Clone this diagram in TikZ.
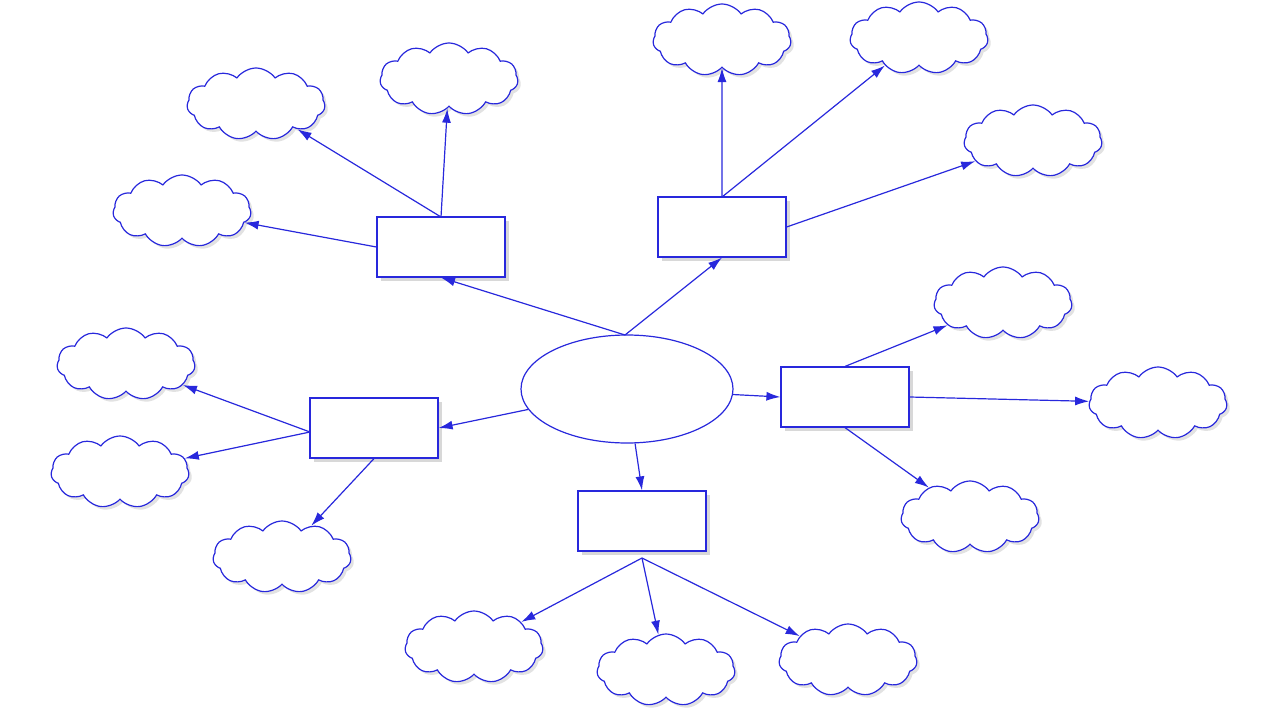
\documentclass[tikz,border=0pt]{standalone}
\usetikzlibrary{shapes.geometric,shapes.symbols,arrows.meta,shadows}
\definecolor{lb}{RGB}{40,40,220}
\begin{document}
\begin{tikzpicture}[x=1pt,y=-1pt,
  ln/.style={draw=lb,line width=1.2pt},
  box/.style={ln,fill=white,minimum width=128pt,minimum height=60pt,inner sep=0pt,
    drop shadow={shadow xshift=4pt,shadow yshift=-4pt,fill=gray!60}},
  cl/.style={ln,cloud,cloud puffs=11,cloud puff arc=110,aspect=2,fill=white,
    minimum width=138pt,minimum height=72pt,inner sep=0pt,
    drop shadow={shadow xshift=3pt,shadow yshift=-3pt,fill=gray!45}},
  ar/.style={ln,-{Latex[length=14pt,width=9pt]}}]
\useasboundingbox (0,0) rectangle (1280,720);
\node[ln,ellipse,fill=white,minimum width=212pt,minimum height=108pt] (e) at (627,389) {};
\node[box] (b1) at (441,247) {};
\node[box] (b2) at (722,227) {};
\node[box] (b3) at (845,397) {};
\node[box] (b4) at (374,428) {};
\node[box] (b5) at (642,521) {};
\node[cl] (c11) at (256,104) {};
\node[cl] (c12) at (449,79) {};
\node[cl] (c13) at (182,211) {};
\node[cl] (c21) at (722,40) {};
\node[cl] (c22) at (919,38) {};
\node[cl] (c23) at (1033,141) {};
\node[cl] (c31) at (1003,303) {};
\node[cl] (c32) at (1158,403) {};
\node[cl] (c33) at (970,517) {};
\node[cl] (c41) at (126,364) {};
\node[cl] (c42) at (120,472) {};
\node[cl] (c43) at (282,557) {};
\node[cl] (c51) at (474,647) {};
\node[cl] (c52) at (666,670) {};
\node[cl] (c53) at (848,660) {};
\coordinate (e1) at (625,335);
\draw[ar] (e1) -- (b1.south);
\draw[ar] (e1) -- (b2.south);
\draw[ar] (e) -- (b3.west);
\draw[ar] (e) -- (b4.east);
\draw[ar] (e) -- (b5.north);
\coordinate (p1) at (441,217);
\draw[ar] (p1) -- (c11);
\draw[ar] (p1) -- (c12);
\draw[ar] (b1.west) -- (c13);
\coordinate (p2) at (722,197);
\draw[ar] (p2) -- (c21);
\draw[ar] (p2) -- (c22);
\draw[ar] (b2.east) -- (c23);
\draw[ar] (b3.north) -- (c31);
\draw[ar] (b3.east) -- (c32);
\draw[ar] (b3.south) -- (c33);
\coordinate (p4) at (310,432);
\draw[ar] (p4) -- (c41);
\draw[ar] (p4) -- (c42);
\draw[ar] (b4.south) -- (c43);
\coordinate (p5) at (642,558);
\draw[ar] (p5) -- (c51);
\draw[ar] (p5) -- (c52);
\draw[ar] (p5) -- (c53);
\end{tikzpicture}
\end{document}
